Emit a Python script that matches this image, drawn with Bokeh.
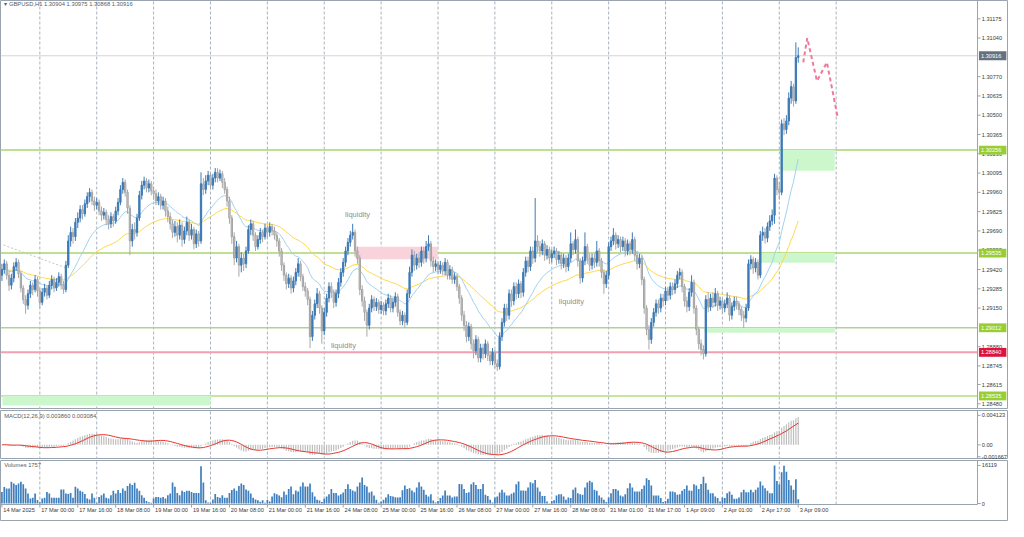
from bokeh.plotting import figure
from bokeh.models import Range1d, Label, BoxAnnotation, ColumnDataSource
from bokeh.layouts import column
from bokeh.embed import file_html
from bokeh.resources import INLINE
from bokeh.core.properties import value

FONT = "Liberation Sans"

# ---------------- data (GBPUSD H1) ----------------
first_open = 1.2938
closes = [
1.2942, 1.2946, 1.2938, 1.2931, 1.2936, 1.2944, 1.2947, 1.2939, 1.2929, 1.2921,
1.2917, 1.2925, 1.2931, 1.2928, 1.2935, 1.2927, 1.2919, 1.2926, 1.2929, 1.2924,
1.2931, 1.2935, 1.2929, 1.2933, 1.2937, 1.2931, 1.2928, 1.2945, 1.2962, 1.2968,
1.2965, 1.2975, 1.2978, 1.2984, 1.2981, 1.2988, 1.2993, 1.2996, 1.2990, 1.2987,
1.2989, 1.2983, 1.2980, 1.2982, 1.2977, 1.2974, 1.2979, 1.2976, 1.2983, 1.2989,
1.2998, 1.3003, 1.2996, 1.2985, 1.2962, 1.2970, 1.2968, 1.2978, 1.2994, 1.3001,
1.3004, 1.2999, 1.3002, 1.2997, 1.2995, 1.2990, 1.2993, 1.2987, 1.2990, 1.2983,
1.2979, 1.2974, 1.2968, 1.2972, 1.2966, 1.2973, 1.2963, 1.2969, 1.2975, 1.2966,
1.2970, 1.2960, 1.2967, 1.2962, 1.3002, 1.2998, 1.3004, 1.3008, 1.3001, 1.3006,
1.3010, 1.3006, 1.3009, 1.3003, 1.2998, 1.2990, 1.2978, 1.2965, 1.2950, 1.2958,
1.2945, 1.2950, 1.2946, 1.2955, 1.2970, 1.2974, 1.2966, 1.2958, 1.2963, 1.2968,
1.2965, 1.2971, 1.2968, 1.2972, 1.2969, 1.2966, 1.2962, 1.2955, 1.2945, 1.2938,
1.2932, 1.2936, 1.2929, 1.2934, 1.2940, 1.2946, 1.2937, 1.2930, 1.2927, 1.2921,
1.2895, 1.2910, 1.2918, 1.2925, 1.2915, 1.2899, 1.2912, 1.2922, 1.2930, 1.2926,
1.2919, 1.2925, 1.2933, 1.2940, 1.2947, 1.2955, 1.2961, 1.2966, 1.2968, 1.2955,
1.2950, 1.2928, 1.2920, 1.2912, 1.2903, 1.2915, 1.2921, 1.2916, 1.2919, 1.2914,
1.2917, 1.2913, 1.2918, 1.2922, 1.2915, 1.2919, 1.2923, 1.2912, 1.2906, 1.2910,
1.2905, 1.2925, 1.2940, 1.2952, 1.2945, 1.2950, 1.2947, 1.2955, 1.2950, 1.2958,
1.2960, 1.2948, 1.2944, 1.2946, 1.2942, 1.2945, 1.2941, 1.2947, 1.2938, 1.2942,
1.2935, 1.2937, 1.2930, 1.2922, 1.2910, 1.2903, 1.2895, 1.2902, 1.2890, 1.2885,
1.2893, 1.2880, 1.2887, 1.2883, 1.2890, 1.2882, 1.2878, 1.2884, 1.2876, 1.2874,
1.2895, 1.2905, 1.2915, 1.2910, 1.2925, 1.2920, 1.2930, 1.2925, 1.2932, 1.2926,
1.2940, 1.2948, 1.2944, 1.2955, 1.2950, 1.2962, 1.2958, 1.2955, 1.2960, 1.2952,
1.2956, 1.2950, 1.2953, 1.2955, 1.2949, 1.2952, 1.2946, 1.2950, 1.2944, 1.2950,
1.2960, 1.2956, 1.2963, 1.2948, 1.2936, 1.2948, 1.2958, 1.2950, 1.2945, 1.2950,
1.2947, 1.2955, 1.2948, 1.2940, 1.2932, 1.2938, 1.2958, 1.2962, 1.2966, 1.2960,
1.2963, 1.2958, 1.2962, 1.2955, 1.2960, 1.2956, 1.2963, 1.2952, 1.2946, 1.2950,
1.2935, 1.2915, 1.2900, 1.2893, 1.2905, 1.2912, 1.2918, 1.2915, 1.2922, 1.2920,
1.2927, 1.2924, 1.2930, 1.2928, 1.2932, 1.2938, 1.2940, 1.2930, 1.2920, 1.2916,
1.2926, 1.2933, 1.2915, 1.2900, 1.2890, 1.2886, 1.2883, 1.2921, 1.2916, 1.2922,
1.2919, 1.2925, 1.2917, 1.2920, 1.2915, 1.2918, 1.2922, 1.2910, 1.2916, 1.2920,
1.2918, 1.2914, 1.2910, 1.2908, 1.2915, 1.2946, 1.2949, 1.2943, 1.2947, 1.2938,
1.2966, 1.2968, 1.2964, 1.2972, 1.2976, 1.2980, 1.3006, 1.2998, 1.2996, 1.3044,
1.3040, 1.3046, 1.3062, 1.3070, 1.3060, 1.30904, 1.30916,
]
highs = [
1.2946, 1.2949, 1.2948, 1.2941, 1.2939, 1.2947, 1.2950, 1.2949, 1.2941, 1.2931,
1.2924, 1.2928, 1.2934, 1.2933, 1.2938, 1.2937, 1.2929, 1.2929, 1.2932, 1.2931,
1.2934, 1.2938, 1.2937, 1.2936, 1.2940, 1.2939, 1.2934, 1.2948, 1.2966, 1.2972,
1.2971, 1.2978, 1.2982, 1.2987, 1.2987, 1.2991, 1.2996, 1.2999, 1.2998, 1.2993,
1.2992, 1.2991, 1.2986, 1.2985, 1.2984, 1.2980, 1.2982, 1.2981, 1.2986, 1.2992,
1.3001, 1.3006, 1.3005, 1.2998, 1.2987, 1.2974, 1.2975, 1.2981, 1.2997, 1.3004,
1.3007, 1.3006, 1.3005, 1.3004, 1.3000, 1.2998, 1.2996, 1.2995, 1.2993, 1.2992,
1.2986, 1.2982, 1.2977, 1.2976, 1.2975, 1.2977, 1.2975, 1.2972, 1.2979, 1.2977,
1.2974, 1.2972, 1.2970, 1.2969, 1.3010, 1.3006, 1.3008, 1.3011, 1.3010, 1.3009,
1.3013, 1.3013, 1.3012, 1.3011, 1.3006, 1.3000, 1.2993, 1.2980, 1.2968, 1.2962,
1.2960, 1.2954, 1.2953, 1.2958, 1.2973, 1.2977, 1.2976, 1.2968, 1.2966, 1.2971,
1.2970, 1.2974, 1.2973, 1.2975, 1.2974, 1.2972, 1.2968, 1.2964, 1.2957, 1.2947,
1.2940, 1.2939, 1.2938, 1.2937, 1.2943, 1.2950, 1.2948, 1.2939, 1.2933, 1.2929,
1.2923, 1.2913, 1.2921, 1.2929, 1.2927, 1.2917, 1.2915, 1.2925, 1.2933, 1.2933,
1.2928, 1.2928, 1.2936, 1.2943, 1.2950, 1.2958, 1.2964, 1.2969, 1.2974, 1.2970,
1.2958, 1.2952, 1.2931, 1.2923, 1.2914, 1.2918, 1.2924, 1.2923, 1.2922, 1.2921,
1.2920, 1.2919, 1.2921, 1.2925, 1.2924, 1.2922, 1.2926, 1.2925, 1.2914, 1.2913,
1.2912, 1.2928, 1.2944, 1.2956, 1.2955, 1.2953, 1.2954, 1.2958, 1.2958, 1.2962,
1.2966, 1.2962, 1.2951, 1.2949, 1.2948, 1.2948, 1.2947, 1.2950, 1.2949, 1.2945,
1.2944, 1.2940, 1.2939, 1.2932, 1.2924, 1.2913, 1.2906, 1.2905, 1.2904, 1.2893,
1.2896, 1.2895, 1.2890, 1.2890, 1.2893, 1.2892, 1.2885, 1.2887, 1.2886, 1.2879,
1.2898, 1.2908, 1.2918, 1.2918, 1.2928, 1.2928, 1.2933, 1.2933, 1.2935, 1.2934,
1.2943, 1.2951, 1.2951, 1.2958, 1.2958, 1.2992, 1.2966, 1.2962, 1.2963, 1.2962,
1.2959, 1.2958, 1.2956, 1.2958, 1.2957, 1.2955, 1.2954, 1.2953, 1.2952, 1.2953,
1.2968, 1.2962, 1.2970, 1.2965, 1.2950, 1.2951, 1.2968, 1.2960, 1.2953, 1.2953,
1.2953, 1.2962, 1.2957, 1.2950, 1.2942, 1.2941, 1.2961, 1.2965, 1.2971, 1.2968,
1.2966, 1.2965, 1.2965, 1.2964, 1.2963, 1.2962, 1.2968, 1.2965, 1.2955, 1.2953,
1.2952, 1.2937, 1.2917, 1.2903, 1.2908, 1.2915, 1.2921, 1.2921, 1.2925, 1.2925,
1.2930, 1.2930, 1.2933, 1.2933, 1.2935, 1.2941, 1.2943, 1.2942, 1.2932, 1.2923,
1.2929, 1.2938, 1.2935, 1.2917, 1.2902, 1.2893, 1.2889, 1.2924, 1.2926, 1.2925,
1.2926, 1.2929, 1.2927, 1.2923, 1.2922, 1.2921, 1.2926, 1.2924, 1.2919, 1.2923,
1.2923, 1.2920, 1.2916, 1.2913, 1.2918, 1.2949, 1.2952, 1.2951, 1.2950, 1.2949,
1.2969, 1.2972, 1.2971, 1.2975, 1.2980, 1.2984, 1.3009, 1.3008, 1.3003, 1.3047,
1.3048, 1.3050, 1.3066, 1.3074, 1.3072, 1.3101, 1.30975,
]
lows = [
1.2934, 1.2939, 1.2935, 1.2927, 1.2928, 1.2933, 1.2941, 1.2936, 1.2926, 1.2918,
1.2911, 1.2914, 1.2922, 1.2924, 1.2926, 1.2923, 1.2915, 1.2917, 1.2923, 1.2921,
1.2922, 1.2928, 1.2926, 1.2927, 1.2930, 1.2928, 1.2925, 1.2926, 1.2943, 1.2958,
1.2960, 1.2962, 1.2971, 1.2975, 1.2977, 1.2979, 1.2985, 1.2989, 1.2987, 1.2983,
1.2984, 1.2980, 1.2976, 1.2977, 1.2973, 1.2970, 1.2971, 1.2972, 1.2974, 1.2980,
1.2987, 1.2995, 1.2993, 1.2981, 1.2952, 1.2958, 1.2963, 1.2965, 1.2976, 1.2991,
1.2998, 1.2996, 1.2996, 1.2994, 1.2991, 1.2987, 1.2987, 1.2984, 1.2984, 1.2979,
1.2975, 1.2970, 1.2964, 1.2965, 1.2961, 1.2963, 1.2958, 1.2960, 1.2966, 1.2962,
1.2963, 1.2956, 1.2957, 1.2958, 1.2960, 1.2994, 1.2995, 1.3001, 1.2998, 1.2998,
1.3003, 1.3003, 1.3004, 1.2999, 1.2995, 1.2986, 1.2974, 1.2960, 1.2945, 1.2947,
1.2937, 1.2940, 1.2941, 1.2943, 1.2953, 1.2966, 1.2962, 1.2955, 1.2956, 1.2960,
1.2961, 1.2963, 1.2964, 1.2965, 1.2966, 1.2963, 1.2958, 1.2951, 1.2941, 1.2934,
1.2928, 1.2929, 1.2925, 1.2926, 1.2931, 1.2937, 1.2934, 1.2927, 1.2923, 1.2917,
1.2887, 1.2892, 1.2907, 1.2915, 1.2911, 1.2890, 1.2896, 1.2909, 1.2919, 1.2922,
1.2915, 1.2916, 1.2922, 1.2930, 1.2937, 1.2944, 1.2952, 1.2958, 1.2963, 1.2951,
1.2946, 1.2924, 1.2916, 1.2906, 1.2895, 1.2900, 1.2912, 1.2913, 1.2913, 1.2911,
1.2911, 1.2910, 1.2910, 1.2915, 1.2912, 1.2912, 1.2916, 1.2909, 1.2903, 1.2903,
1.2901, 1.2903, 1.2922, 1.2937, 1.2941, 1.2942, 1.2943, 1.2944, 1.2946, 1.2947,
1.2955, 1.2944, 1.2940, 1.2941, 1.2939, 1.2939, 1.2938, 1.2938, 1.2935, 1.2935,
1.2932, 1.2932, 1.2927, 1.2918, 1.2906, 1.2899, 1.2891, 1.2892, 1.2886, 1.2880,
1.2882, 1.2877, 1.2877, 1.2879, 1.2880, 1.2878, 1.2875, 1.2875, 1.2873, 1.2871,
1.2872, 1.2892, 1.2902, 1.2906, 1.2907, 1.2916, 1.2917, 1.2921, 1.2922, 1.2922,
1.2923, 1.2937, 1.2940, 1.2941, 1.2946, 1.2947, 1.2954, 1.2951, 1.2952, 1.2948,
1.2949, 1.2946, 1.2947, 1.2950, 1.2945, 1.2946, 1.2942, 1.2943, 1.2940, 1.2941,
1.2947, 1.2952, 1.2953, 1.2944, 1.2932, 1.2933, 1.2945, 1.2946, 1.2941, 1.2942,
1.2943, 1.2944, 1.2944, 1.2936, 1.2925, 1.2929, 1.2935, 1.2955, 1.2959, 1.2956,
1.2957, 1.2954, 1.2955, 1.2951, 1.2952, 1.2952, 1.2953, 1.2948, 1.2942, 1.2943,
1.2931, 1.2911, 1.2896, 1.2886, 1.2890, 1.2902, 1.2909, 1.2911, 1.2912, 1.2916,
1.2917, 1.2920, 1.2921, 1.2924, 1.2925, 1.2929, 1.2935, 1.2926, 1.2916, 1.2912,
1.2913, 1.2923, 1.2911, 1.2896, 1.2886, 1.2882, 1.2879, 1.2881, 1.2912, 1.2913,
1.2915, 1.2916, 1.2913, 1.2914, 1.2911, 1.2912, 1.2915, 1.2906, 1.2907, 1.2913,
1.2914, 1.2910, 1.2906, 1.2901, 1.2905, 1.2913, 1.2942, 1.2939, 1.2940, 1.2935,
1.2936, 1.2962, 1.2960, 1.2961, 1.2969, 1.2973, 1.2974, 1.2994, 1.2991, 1.2994,
1.3036, 1.3037, 1.3043, 1.3058, 1.3056, 1.3058, 1.30868,
]
volumes = [
4900, 7000, 6400, 6400, 9200, 8500, 7800, 8500, 9200, 8200, 6400, 4200, 2100, 2400, 4200, 1500,
500, 2100, 2400, 4900, 4200, 2400, 2400, 2400, 2400, 5900, 5900, 4200, 4000, 4500, 2400, 7100, 6400, 5400, 5000, 4000, 2100, 1700, 4200, 2400,
300, 2800, 3500, 4200, 2400, 2100, 3500, 5400, 4200, 5700, 4500, 6400, 5400, 7400, 8500, 7800, 8800, 6400, 5400, 3500, 2400, 1100, 500, 300,
2100, 2800, 2800, 2400, 2800, 2100, 3500, 4200, 8900, 7100, 4500, 3500, 5400, 4900, 5400, 5400, 4900, 4500, 4500, 4500, 15800, 8900, 1400, 400,
300, 1700, 4000, 2800, 2400, 3500, 2400, 2400, 4500, 5700, 6400, 5400, 7400, 8500, 7800, 5900, 5400, 4200, 2400, 1700, 1400, 700, 1400, 300,
1500, 800, 3000, 4400, 3900, 3400, 2700, 5100, 3700, 6100, 7200, 3900, 5500, 5100, 7200, 8900, 7200, 7200, 8500, 4800, 3000, 1600, 1300, 600,
2000, 3000, 3900, 6200, 4500, 4500, 3400, 3900, 4700, 6200, 8200, 6200, 5500, 5100, 7200, 8900, 11000, 7900, 7200, 4700, 5100, 3400, 1600, 300,
800, 1600, 2500, 3900, 3200, 3000, 2700, 2500, 2700, 5600, 7600, 6200, 6500, 5500, 4800, 6800, 9000, 7200, 5800, 3700, 3000, 3900, 1300, 400,
1100, 2300, 3400, 5500, 3400, 3400, 2500, 3000, 3000, 8300, 8200, 6100, 4500, 4800, 8200, 9000, 7900, 6100, 6100, 8300, 3700, 3200, 1600, 400,
2500, 3000, 4700, 5800, 4700, 3400, 3400, 4100, 4700, 8200, 9300, 5500, 5500, 5400, 6800, 9000, 8600, 10000, 6800, 5100, 3200, 3200, 800, 150,
1100, 1400, 3400, 3900, 3900, 3000, 1600, 2500, 2300, 5800, 6800, 4400, 3900, 3700, 6800, 8900, 9600, 9000, 5800, 5400, 3400, 2500, 1600, 600,
2500, 4400, 6100, 6200, 5500, 3400, 3000, 3900, 6500, 8600, 6800, 5100, 5100, 5100, 6100, 7600, 10700, 10000, 7600, 3400, 3400, 3400, 2300, 600,
1100, 2000, 5100, 5100, 4800, 3700, 3900, 5400, 6200, 7600, 5500, 5400, 8200, 7600, 6200, 8300, 11400, 8600, 5800, 4400, 4400, 3000, 2300, 800,
2500, 2300, 4400, 5100, 3700, 2000, 2000, 2500, 4800, 5800, 4800, 4800, 5800, 4800, 5800, 6800, 9300, 7600, 6500, 5400, 4400, 4400, 16119, 9500,
8200, 13300, 16000, 13500, 10000, 7600, 5800, 10300, 1757,
]

time_tick_idx = [0, 16, 32, 48, 64, 80, 96, 112, 128, 144, 160, 176, 192, 208, 224,
                 240, 256, 272, 288, 304, 320, 336]
time_tick_text = ["14 Mar 2025", "17 Mar 00:00", "17 Mar 16:00", "18 Mar 08:00", "19 Mar 00:00",
                  "19 Mar 16:00", "20 Mar 08:00", "21 Mar 00:00", "21 Mar 16:00", "24 Mar 08:00",
                  "25 Mar 00:00", "25 Mar 16:00", "26 Mar 08:00", "27 Mar 00:00", "27 Mar 16:00",
                  "28 Mar 08:00", "31 Mar 01:00", "31 Mar 17:00", "1 Apr 09:00", "2 Apr 01:00",
                  "2 Apr 17:00", "3 Apr 09:00"]
grid_idx = [16, 40, 64, 88, 112, 136, 160, 184, 208, 232, 256, 280, 304, 328, 352]

price_ticks = [1.31175, 1.31040, 1.30770, 1.30635, 1.30500, 1.30365, 1.30230, 1.30095,
               1.29960, 1.29825, 1.29690, 1.29555, 1.29420, 1.29285, 1.29150, 1.28880,
               1.28745, 1.28615, 1.28480]
macd_ticks = [-0.001667, 0.0, 0.004123]
macd_tick_text = ["-0.001667", "0.00", "0.004123"]
volume_ticks = [0, 16119]

# horizontal levels and their price tags
level_prices = [1.30256, 1.29535, 1.29012, 1.28840, 1.28535]
level_colors = ["#a9d66f", "#a9d66f", "#b4cf98", "#f29fb0", "#b5de7d"]
level_widths = [1.5, 1.5, 1.5, 2, 1.5]
tag_prices = [1.30916, 1.30256, 1.29535, 1.29012, 1.28840, 1.28535]
tag_texts = ["1.30916", "1.30256", "1.29535", "1.29012", "1.28840", "1.28535"]
tag_colors = ["#66717d", "#9acd32", "#9acd32", "#9acd32", "#dc143c", "#9acd32"]
bid_price = 1.30916

# zones: (left idx, right idx, top price, bottom price)
green_zone_left = [328.5, 320.2, 296.4, 0.2]
green_zone_right = [351.4, 351.4, 351.4, 88.1]
green_zone_top = [1.30256, 1.29535, 1.29012, 1.28535]
green_zone_bottom = [1.30112, 1.29468, 1.28978, 1.28468]
pink_zone = [149.3, 183.9, 1.29580, 1.29492]

proj_x = [338.1, 339.8, 343.9, 348.1, 352.7]
proj_y = [1.30870, 1.31040, 1.30740, 1.30870, 1.30480]
trend_x = [0.7, 26.8]
trend_y = [1.29591, 1.29433]

note_text = ["liquidity", "liquidity", "liquidity"]
note_x = [144.8, 138.8, 235.0]
note_y = [1.29805, 1.28890, 1.29195]

# ---------------- derived ----------------
n = min(len(closes), len(highs), len(lows), len(volumes))
closes, highs, lows, volumes = closes[:n], highs[:n], lows[:n], volumes[:n]
idx = list(range(n))
opens = [first_open] + closes[:n - 1]


def ema(vals, period):
    k = 2.0 / (period + 1)
    out, e = [], vals[0]
    for v in vals:
        e = e + k * (v - e)
        out.append(e)
    return out


ma_fast = ema(closes, 20)
ma_slow = ema(closes, 50)
e12, e26 = ema(closes, 12), ema(closes, 26)
macd_main = [a - b for a, b in zip(e12, e26)]
macd_signal = []
for i in range(n):
    w = macd_main[max(0, i - 8):i + 1]
    macd_signal.append(sum(w) / len(w))

bull = [i for i in idx if closes[i] >= opens[i]]
bear = [i for i in idx if closes[i] < opens[i]]


def body(ids):
    top, bot = [], []
    for i in ids:
        t, b = max(opens[i], closes[i]), min(opens[i], closes[i])
        if t - b < 0.00003:
            t += 0.000015
            b -= 0.000015
        top.append(t)
        bot.append(b)
    return dict(x=ids, top=top, bottom=bot,
                hi=[highs[i] for i in ids], lo=[lows[i] for i in ids])


# ---------------- layout constants ----------------
W = 1008
X_START = -0.6
PX_PER_BAR = 2.37
X_FULL = X_START + W / PX_PER_BAR
X_AXIS = X_START + 977 / PX_PER_BAR
x_range = Range1d(X_START, X_FULL)
FRAME_COL = "#9aa4ae"
GRID_COL = "#a9b2bb"
TXT = "#3a3a3a"
FS_AXIS = value("5.6px")


def make_fig(h, top, yr):
    p = figure(width=W, height=h, x_range=x_range, y_range=yr,
               output_backend="svg", toolbar_location=None, tools="",
               x_axis_location=None, y_axis_location=None,
               min_border_left=0, min_border_right=0, min_border_top=top, min_border_bottom=0)
    p.xgrid.visible = False
    p.ygrid.visible = False
    p.outline_line_color = FRAME_COL
    p.background_fill_color = "white"
    p.border_fill_color = "white"
    return p


def right_axis(p, ticks, texts, y0, y1):
    p.segment(x0=[X_AXIS], x1=[X_AXIS], y0=[y0], y1=[y1], line_color=FRAME_COL, line_width=1)
    p.segment(x0=[X_AXIS] * len(ticks), x1=[X_AXIS + 1.3] * len(ticks), y0=ticks, y1=ticks,
              line_color=FRAME_COL, line_width=1)
    p.text(x=[X_AXIS + 1.8] * len(ticks), y=ticks, text=texts, text_font=value(FONT),
           text_font_size=FS_AXIS, text_color=TXT, text_baseline="middle", text_align="left")


def vgrid(p, y0, y1):
    p.segment(x0=grid_idx, x1=grid_idx, y0=[y0] * len(grid_idx), y1=[y1] * len(grid_idx),
              line_color=GRID_COL, line_dash="3 2", line_width=1, level="underlay")


# ---------------- price pane ----------------
P_LO, P_HI = 1.28440, 1.31303
p1 = make_fig(409, 0, Range1d(P_LO, P_HI))
vgrid(p1, P_LO, P_HI)

p1.segment(x0=[X_START], x1=[X_AXIS], y0=[bid_price], y1=[bid_price], line_color="#d3d3d3",
           line_width=1, level="underlay")
for l, r, t, b in zip(green_zone_left, green_zone_right, green_zone_top, green_zone_bottom):
    p1.add_layout(BoxAnnotation(left=l, right=r, top=t, bottom=b, fill_color="#ccf7cc",
                                fill_alpha=1.0, line_color=None, level="underlay"))
p1.add_layout(BoxAnnotation(left=pink_zone[0], right=pink_zone[1], top=pink_zone[2],
                            bottom=pink_zone[3], fill_color="#f9d3dc", fill_alpha=1.0,
                            line_color=None, level="underlay"))
p1.segment(x0=[X_START] * len(level_prices), x1=[X_AXIS] * len(level_prices),
           y0=level_prices, y1=level_prices, line_color=level_colors, line_width=level_widths,
           level="underlay")

p1.line(trend_x, trend_y, line_color="#c4c4c4", line_width=1, line_dash="2 2")
p1.line(idx, ma_slow, line_color="#ffd84a", line_width=1)
p1.line(idx, ma_fast, line_color="#9fd3ef", line_width=1)

sb = ColumnDataSource(body(bull))
sr = ColumnDataSource(body(bear))
p1.segment(x0="x", x1="x", y0="lo", y1="hi", source=sr, line_color="#a8a8a8", line_width=1)
p1.vbar(x="x", width=0.55, top="top", bottom="bottom", source=sr,
        fill_color="#d2d2d2", line_color="#a3a3a3", line_width=1)
p1.segment(x0="x", x1="x", y0="lo", y1="hi", source=sb, line_color="#3d7ab6", line_width=1)
p1.vbar(x="x", width=0.55, top="top", bottom="bottom", source=sb,
        fill_color="#3d7ab6", line_color="#3d7ab6", line_width=1)

p1.line(proj_x, proj_y, line_color="#f0789a", line_width=2, line_dash="4 3")

p1.text(x=note_x, y=note_y, text=note_text, text_font=value(FONT), text_font_size=value("7.5px"),
        text_color="#8f8f8f", text_baseline="middle")

p1.add_layout(Label(x=1.0, y=1.31278, text="\u25be GBPUSD,H1  1.30904 1.30975 1.30868 1.30916",
                    text_font=FONT, text_font_size="5.8px", text_color="#5a5a5a",
                    text_baseline="middle"))

right_axis(p1, price_ticks, [f"{v:.5f}" for v in price_ticks], P_LO, P_HI)

TAG_H = 0.00031
p1.quad(left=[X_AXIS + 0.6] * len(tag_prices), right=[X_FULL - 0.9] * len(tag_prices),
        top=[v + TAG_H for v in tag_prices], bottom=[v - TAG_H for v in tag_prices],
        fill_color=tag_colors, line_color=None)
p1.text(x=[X_AXIS + 1.5] * len(tag_prices), y=tag_prices, text=tag_texts, text_font=value(FONT),
        text_font_size=FS_AXIS, text_color="white", text_baseline="middle", text_align="left")

# ---------------- MACD pane ----------------
M_LO, M_HI = -0.00205, 0.00480
p2 = make_fig(50, 1, Range1d(M_LO, M_HI))
vgrid(p2, M_LO, M_HI)
p2.vbar(x=idx, top=macd_main, bottom=0, width=0.5, fill_color="#bdbdbd", line_color=None)
p2.line(idx, macd_signal, line_color="#e8342c", line_width=1)
p2.add_layout(Label(x=1.0, y=0.00408, text="MACD(12,26,9) 0.003860 0.003084",
                    text_font=FONT, text_font_size="5.8px", text_color="#5a5a5a",
                    text_baseline="middle"))
right_axis(p2, macd_ticks, macd_tick_text, M_LO, M_HI)

# ---------------- volume pane + time strip ----------------
V_PER_PX = 424.0
V_TOP = 16119 + 5 * V_PER_PX
V_BASE = -1 * V_PER_PX
V_BOTTOM = V_BASE - 17 * V_PER_PX
p3 = make_fig(62, 1, Range1d(V_BOTTOM, V_TOP))
vgrid(p3, V_BASE, V_TOP)
p3.vbar(x=idx, top=volumes, bottom=0, width=0.72, fill_color="#3f7fbd", line_color=None)
p3.add_layout(Label(x=1.0, y=16119, text="Volumes 1757", text_font=FONT, text_font_size="5.8px",
                    text_color="#5a5a5a", text_baseline="middle"))
right_axis(p3, volume_ticks, [str(v) for v in volume_ticks], V_BASE, V_TOP)
p3.segment(x0=[X_START], x1=[X_AXIS], y0=[V_BASE], y1=[V_BASE], line_color=FRAME_COL, line_width=1)
p3.segment(x0=time_tick_idx, x1=time_tick_idx, y0=[V_BASE] * len(time_tick_idx),
           y1=[V_BASE - 3 * V_PER_PX] * len(time_tick_idx), line_color=FRAME_COL, line_width=1)
p3.text(x=[t + 0.6 for t in time_tick_idx], y=[V_BASE - 2.5 * V_PER_PX] * len(time_tick_idx),
        text=time_tick_text, text_font=value(FONT), text_font_size=FS_AXIS, text_color=TXT,
        text_baseline="top", text_align="left")

layout = column(p1, p2, p3, spacing=0)
open("out.html", "w").write(file_html(layout, INLINE))
